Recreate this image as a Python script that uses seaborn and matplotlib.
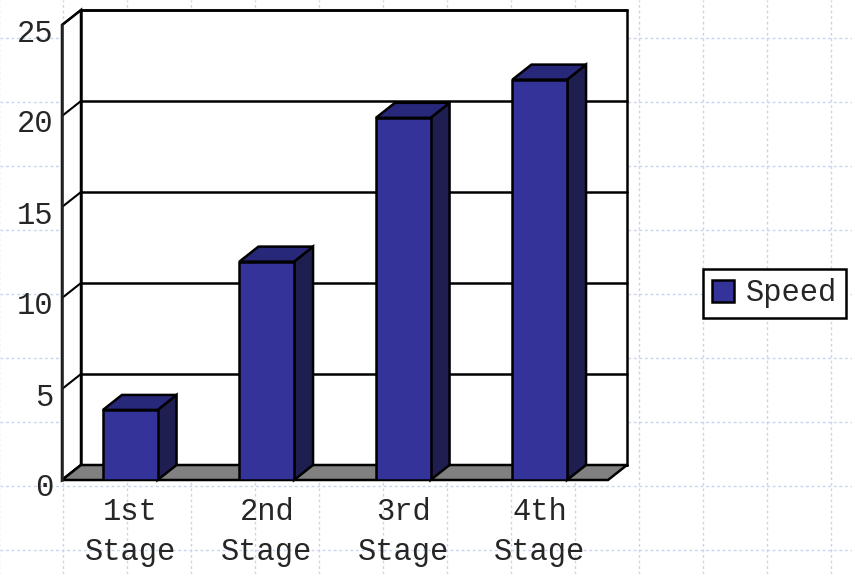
import numpy as np
import pandas as pd
import matplotlib
matplotlib.use("Agg")
import matplotlib.pyplot as plt
import matplotlib.transforms as mtransforms
from matplotlib.patches import Polygon
import seaborn as sns

# data
stages = ["1st\nStage", "2nd\nStage", "3rd\nStage", "4th\nStage"]
speed = [3.85, 12.0, 19.9, 22.0]
y_ticks = [0, 5, 10, 15, 20, 25]

FRONT = "#333399"
TOP = "#28287a"
SIDE = "#1e1e50"
FLOOR = "#808080"
BG_GRID = "#c8d4f4"

sns.set_style("white")
plt.rcParams["font.family"] = ["Liberation Mono", "DejaVu Sans Mono"]
plt.rcParams["font.size"] = 22

W, H = 852, 574
fig = plt.figure(figsize=(W / 100, H / 100), dpi=100)

# slide-like dotted background grid
bg = fig.add_axes([0, 0, 1, 1], zorder=0)
bg.set_xlim(0, W)
bg.set_ylim(H, 0)
bg.axis("off")
for gx in range(-1, W, 64):
    bg.axvline(gx, color=BG_GRID, lw=1, ls=(0, (2, 2)))
for gy in range(38, H, 64):
    bg.axhline(gy, color=BG_GRID, lw=1, ls=(0, (2, 2)))

# front plane of the 3-D chart
left, right, top, bottom = 62, 608, 25, 480
ax = fig.add_axes([left / W, 1 - bottom / H, (right - left) / W, (bottom - top) / H], zorder=1)
ax.set_facecolor("none")

df = pd.DataFrame({"stage": stages, "speed": speed})
sns.barplot(data=df, x="stage", y="speed", color=FRONT, width=0.4,
            edgecolor="black", linewidth=1.8, saturation=1, label="Speed",
            ax=ax, zorder=6)
ax.set_xlim(-0.5, len(stages) - 0.5)
ax.set_ylim(0, 25)

# depth of the 3-D box in data units (19 px right, 15 px up)
dx = 19 * (len(stages) / (right - left))
dy = 15 * (25 / (bottom - top))
x0, x1 = -0.5, len(stages) - 0.5
ymax = y_ticks[-1]

walls = [
    [(x0, 0), (x0 + dx, dy), (x0 + dx, ymax + dy), (x0, ymax)],
    [(x0 + dx, dy), (x1 + dx, dy), (x1 + dx, ymax + dy), (x0 + dx, ymax + dy)],
]
for w in walls:
    ax.add_patch(Polygon(w, closed=True, facecolor="white", edgecolor="black",
                         lw=1.8, clip_on=False, zorder=1))
for v in y_ticks:
    ax.plot([x0 + dx, x1 + dx], [v + dy, v + dy], color="black", lw=1.8,
            clip_on=False, zorder=2)
    ax.plot([x0, x0 + dx], [v, v + dy], color="black", lw=1.5,
            clip_on=False, zorder=2)

floor = [(x0, 0), (x1, 0), (x1 + dx, dy), (x0 + dx, dy)]
ax.add_patch(Polygon(floor, closed=True, facecolor=FLOOR, edgecolor="black",
                     lw=1.8, clip_on=False, zorder=3))

# side and top faces of each bar
for p in list(ax.patches):
    if not hasattr(p, "get_height") or p.get_height() <= 0:
        continue
    bx, bw, bh = p.get_x(), p.get_width(), p.get_height()
    side = [(bx + bw, 0), (bx + bw + dx, dy), (bx + bw + dx, bh + dy), (bx + bw, bh)]
    topf = [(bx, bh), (bx + bw, bh), (bx + bw + dx, bh + dy), (bx + dx, bh + dy)]
    ax.add_patch(Polygon(side, closed=True, facecolor=SIDE, edgecolor="black",
                         lw=1.8, clip_on=False, zorder=5))
    ax.add_patch(Polygon(topf, closed=True, facecolor=TOP, edgecolor="black",
                         lw=1.8, clip_on=False, zorder=5))

# axes styling
for s in ["top", "right", "bottom"]:
    ax.spines[s].set_visible(False)
ax.spines["left"].set_linewidth(1.8)
ax.spines["left"].set_zorder(4)
ax.set_yticks(y_ticks)
ax.set_xticks(np.arange(len(stages)))
ax.set_xticklabels(stages, linespacing=1.45)
ax.set_xticks(np.arange(len(stages)) + 0.5, minor=True)
ax.tick_params(axis="y", direction="in", length=4, width=1.5, pad=6, labelsize=22)
ax.tick_params(axis="x", which="major", length=0, pad=12, labelsize=22)
ax.tick_params(axis="x", which="minor", direction="in", length=5, width=1.5)
ax.set_xlabel("")
ax.set_ylabel("")
shift = mtransforms.ScaledTranslation(0, -5 / 100, fig.dpi_scale_trans)
for lab in ax.get_yticklabels():
    lab.set_transform(lab.get_transform() + shift)

leg = ax.legend(loc="center left", bbox_to_anchor=(703 / W, 1 - 293.5 / H),
                bbox_transform=fig.transFigure, borderaxespad=0, fancybox=False,
                framealpha=1, edgecolor="black", fontsize=22, handlelength=0.7,
                handleheight=0.7, handletextpad=0.4, borderpad=0.3)
leg.get_frame().set_linewidth(1.8)
leg.set_zorder(10)

fig.savefig("out.png", dpi=100)
